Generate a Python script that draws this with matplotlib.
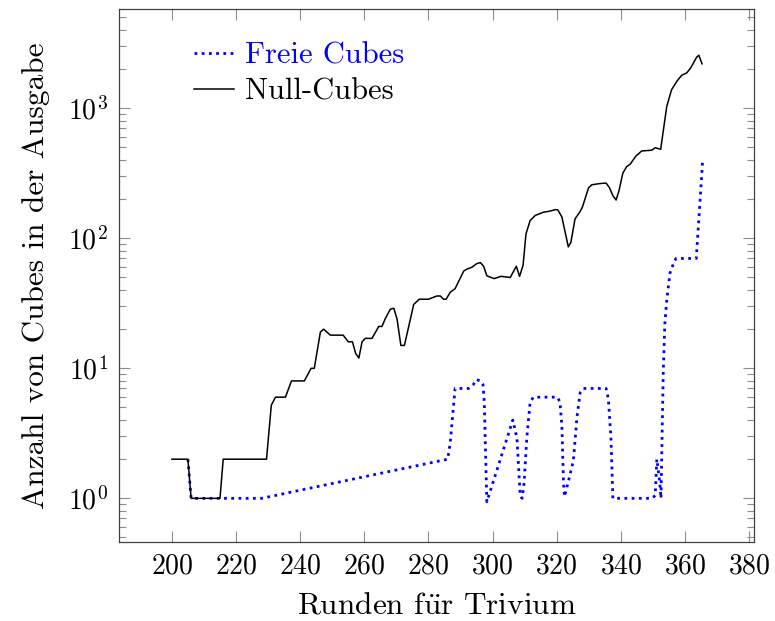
import matplotlib
matplotlib.use("Agg")
import matplotlib.pyplot as plt
from matplotlib.ticker import LogLocator, NullLocator

plt.rcParams['font.family'] = ['cmr10', 'DejaVu Serif']
plt.rcParams['mathtext.fontset'] = 'cm'
plt.rcParams['axes.formatter.use_mathtext'] = True

# Null-Cubes per round
null_rounds = [200, 205, 206, 215, 216, 229.5, 231, 232.3, 235.4, 237.3, 241.3, 243.4,
               244.4, 246.3, 247.3, 249.4, 253.4, 255, 256.3, 257.3, 258.3, 259.3, 260.3,
               262.4, 264.5, 265.5, 266.5, 268.1, 269.2, 270.2, 271.4, 272.5, 275.4, 277.1,
               280, 282.6, 283.7, 284.7, 285.5, 286.8, 288.3, 291, 292, 293.6, 295.1, 296.2,
               297.2, 298.2, 300.5, 302.6, 305.5, 307.4, 308.4, 309.5, 310.4, 311.7, 313.3,
               315.9, 317.4, 319.5, 320.3, 321.6, 323.6, 324.4, 325.7, 327.3, 328, 329.9,
               330.9, 333.5, 335.4, 336.4, 337.5, 338.5, 339.4, 340.6, 341.8, 342.9, 344.7,
               346.5, 349.6, 350.7, 352.4, 354.3, 355.8, 357.4, 359, 360.5, 361.8, 363.6,
               364.3, 365.3]
null_cubes = [2, 2, 1, 1, 2, 2, 5.2, 6, 6, 8, 8, 10,
              10, 19, 20, 18, 18, 16, 16, 13, 12, 16, 17,
              17, 21, 21, 24, 28.5, 29, 24, 15, 15, 31, 34,
              34, 36, 36, 34, 34, 38.5, 41, 56, 58, 60, 64, 65,
              61, 51.5, 49, 51, 50, 61, 51, 62, 108, 137, 150,
              159, 161, 166, 166, 146, 86, 93, 141, 161, 174, 244,
              258, 264, 266, 246, 213, 197, 232, 317, 356, 372, 430,
              470, 476, 498, 484, 1035, 1390, 1610, 1800, 1870, 2050, 2470,
              2560, 2200]

# Freie Cubes per round
free_rounds = [205, 206, 228, 286, 286.8, 288.3, 292.5, 294, 294.9, 296.2, 297, 297.4,
               298.2, 306.3, 307.6, 308.6, 309.2, 309.8, 310.7, 311.7, 312.7, 320.2, 321,
               321.6, 322.1, 322.4, 323.6, 325.2, 326.3, 327.3, 328.3, 335.4, 336.1, 336.9,
               337.5, 349.6, 350.7, 351.2, 351.7, 352.2, 352.5, 353.2, 353.7, 354.3, 355.3,
               356.6, 357.2, 363.5, 365.5]
free_cubes = [2, 1, 1, 2, 2.7, 7, 7, 7.5, 8.2, 8, 7.5, 5.5,
              0.94, 4, 2.9, 1.05, 1, 1.3, 3, 5.5, 6, 6, 5.5,
              3.6, 1.34, 1.03, 1.34, 1.96, 4.2, 6.5, 7, 7, 5.8, 2.9,
              1, 1, 1.05, 2, 1.6, 1.26, 1, 9.3, 22, 33.6, 54,
              66, 70, 70, 400]

x_ticks = [200, 220, 240, 260, 280, 300, 320, 340, 360, 380]

fig = plt.figure(figsize=(7.75, 6.21), dpi=100)
ax = fig.add_axes([0.1535, 0.1272, 0.8194, 0.8583])

ax.plot(free_rounds, free_cubes, color='blue', linestyle=(0, (1, 1.6)), linewidth=2.0,
        label='Freie Cubes')
ax.plot(null_rounds, null_cubes, color='black', linewidth=1.1, label='Null-Cubes')

ax.set_yscale('log')
ax.set_xlim(183.5, 381.5)
ax.set_ylim(10 ** -0.336, 10 ** 3.764)
ax.set_xticks(x_ticks)
ax.xaxis.set_minor_locator(NullLocator())
ax.yaxis.set_major_locator(LogLocator(base=10))
ax.yaxis.set_minor_locator(LogLocator(base=10, subs=range(2, 10)))

ax.tick_params(which='both', direction='in', top=True, right=True, color='0.55',
               labelsize=20)
ax.tick_params(which='major', length=8, width=0.8, pad=8)
ax.tick_params(which='minor', length=5, width=0.8)
for s in ax.spines.values():
    s.set_color('0.25')
    s.set_linewidth(0.9)

# the u-umlaut is built in mathtext so it stays in Computer Modern
ax.set_xlabel(r'Runden f$\ddot{\mathrm{u}}$r Trivium', fontsize=22.5, labelpad=9)
ax.set_ylabel('Anzahl von Cubes in der Ausgabe', fontsize=22.5, labelpad=13)

ax.legend(loc='upper left', bbox_to_anchor=(0.075, 0.99), frameon=False, fontsize=22,
          handlelength=1.3, handletextpad=0.35, labelspacing=0.3, labelcolor='linecolor')

fig.savefig('out.png', dpi=100)
